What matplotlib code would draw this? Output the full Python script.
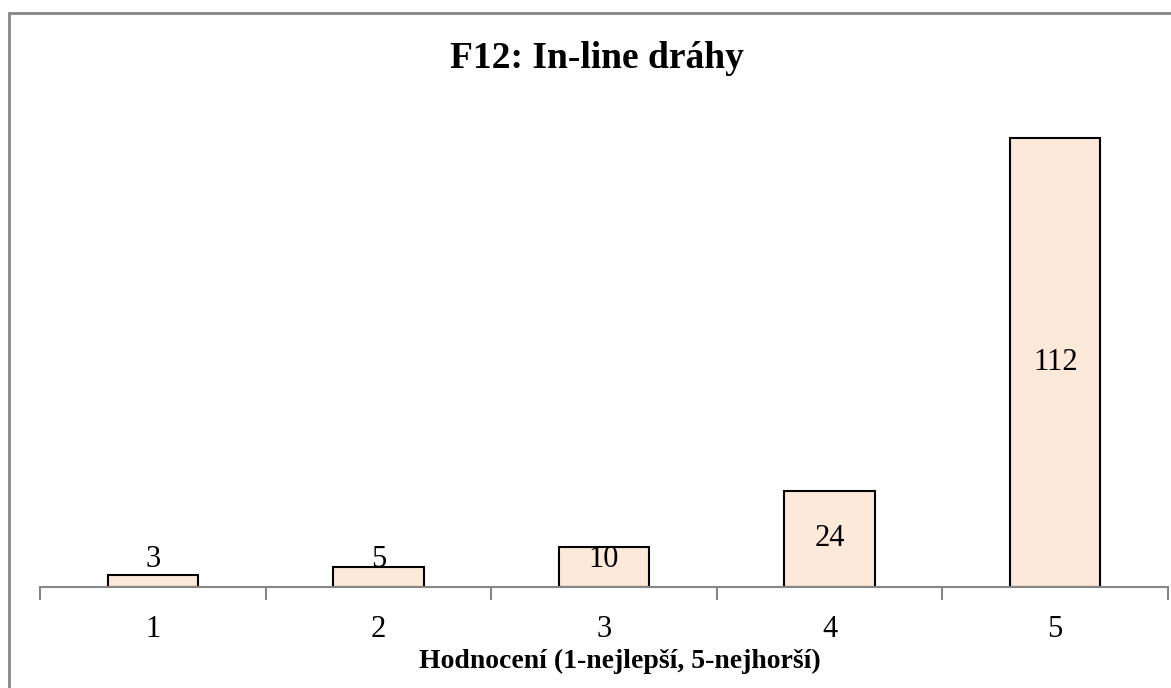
import matplotlib
matplotlib.use("Agg")
import matplotlib.pyplot as plt
from matplotlib.patches import Rectangle

plt.rcParams['font.family'] = ['Liberation Serif', 'DejaVu Serif']

# hodnocení 1-5 a počty odpovědí
categories = ["1", "2", "3", "4", "5"]
counts = [3, 5, 10, 24, 112]

bar_color = "#FDE9D9"
axis_gray = "#868686"

fig = plt.figure(figsize=(11.71, 6.88), dpi=100)
ax = fig.add_axes([40/1171, 1 - 587/688, 1128/1171, 481/688])

x = list(range(1, len(categories) + 1))
ax.bar(x, counts, width=0.40, color=bar_color, edgecolor="black", linewidth=1.5, zorder=3)

# popisky hodnot uprostřed sloupců (u nízkých sloupců trochu výš)
for xi, v in zip(x, counts):
    ax.text(xi, max(v / 2, 6.8), str(v), ha="center", va="center", fontsize=22)

ax.set_xlim(0.5, len(categories) + 0.5)
ax.set_ylim(0, 120)
ax.set_xticks(x)
ax.set_xticklabels(categories, fontsize=22)
ax.set_xticks([i + 0.5 for i in range(len(categories) + 1)], minor=True)
ax.tick_params(axis="x", which="major", length=0, pad=20)
ax.tick_params(axis="x", which="minor", length=9, width=1.5, color=axis_gray)
ax.set_yticks([])
for side in ["left", "right", "top"]:
    ax.spines[side].set_visible(False)
ax.spines["bottom"].set_color(axis_gray)
ax.spines["bottom"].set_linewidth(1.5)
ax.spines["bottom"].set_zorder(4)

fig.text(597/1171, 1 - 58/688, "F12: In-line dráhy", ha="center", va="center",
         fontsize=27, fontweight="bold")
fig.text(620/1171, 1 - 661/688, "Hodnocení (1-nejlepší, 5-nejhorší)", ha="center",
         va="center", fontsize=20, fontweight="bold")

# rámeček grafu
fig.patches.append(Rectangle((9/1171, -0.1), 1.2, 1.1 - 13/688, transform=fig.transFigure,
                             fill=False, edgecolor=axis_gray, linewidth=2))

fig.savefig("out.png", dpi=100)
